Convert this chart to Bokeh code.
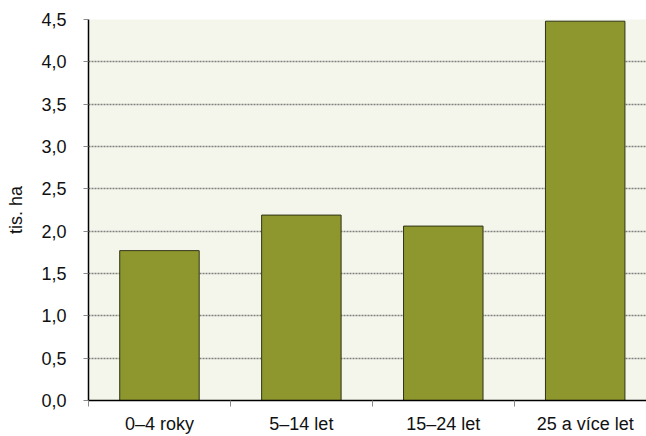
from bokeh.plotting import figure
from bokeh.models import FixedTicker, Range1d
from bokeh.embed import file_html
from bokeh.resources import INLINE

categories = ["0–4 roky", "5–14 let", "15–24 let", "25 a více let"]
values = [1.77, 2.19, 2.06, 4.48]
y_ticks = [0.0, 0.5, 1.0, 1.5, 2.0, 2.5, 3.0, 3.5, 4.0, 4.5]
y_label = "tis. ha"

FONT = "Liberation Sans"

p = figure(width=646, height=436, output_backend="svg", toolbar_location=None,
           x_range=Range1d(0, 3.932), y_range=Range1d(0, 4.5),
           min_border_left=88, min_border_right=0, min_border_top=19, min_border_bottom=35)
p.background_fill_color = "#f5f6eb"
p.border_fill_color = "white"
p.outline_line_color = None

xs = [i + 0.5 for i in range(len(categories))]
p.vbar(x=xs, top=values, width=0.56, fill_color="#8e972e",
       line_color="#2f3314", line_width=1)

# x axis
xa = p.xaxis[0]
xa.ticker = FixedTicker(ticks=xs, minor_ticks=list(range(len(categories) + 1)))
xa.major_label_overrides = {x: c for x, c in zip(xs, categories)}
xa.major_tick_line_color = None
xa.major_tick_out = 0
xa.major_tick_in = 0
xa.minor_tick_line_color = "#888888"
xa.minor_tick_out = 6
xa.minor_tick_in = 0
xa.axis_line_color = "black"
xa.axis_line_width = 1.5
xa.major_label_text_font = FONT
xa.major_label_text_font_size = "18px"
xa.major_label_text_color = "#111111"
xa.major_label_standoff = 7

# y axis
ya = p.yaxis[0]
ya.ticker = FixedTicker(ticks=y_ticks, minor_ticks=[])
ya.major_label_overrides = {t: f"{t:.1f}".replace(".", ",") for t in y_ticks}
ya.major_tick_out = 5
ya.major_tick_in = 0
ya.major_tick_line_color = "#888888"
ya.axis_line_color = "black"
ya.axis_line_width = 1.5
ya.major_label_text_font = FONT
ya.major_label_text_font_size = "18px"
ya.major_label_text_color = "#111111"
ya.major_label_standoff = 17
ya.axis_label = y_label
ya.axis_label_text_font = FONT
ya.axis_label_text_font_size = "18px"
ya.axis_label_text_font_style = "normal"
ya.axis_label_text_color = "#111111"
ya.axis_label_standoff = 12

p.xgrid.grid_line_color = None
p.ygrid.grid_line_color = "#808080"
p.ygrid.grid_line_dash = "2 1"
p.ygrid.grid_line_width = 1.5

open("out.html", "w").write(file_html(p, INLINE))
